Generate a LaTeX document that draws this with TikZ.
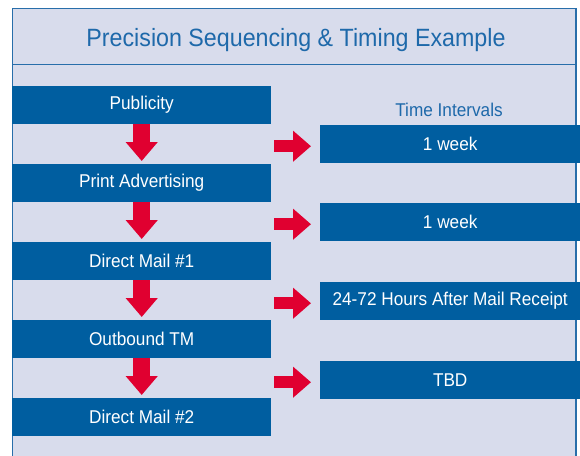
\documentclass[tikz,border=0pt]{standalone}
\usepackage{fontspec}
\setmainfont{Liberation Sans}[FakeStretch=0.93]
\usetikzlibrary{arrows.meta}
\definecolor{panel}{RGB}{216,220,236}
\definecolor{boxblue}{RGB}{0,94,160}
\definecolor{linecol}{RGB}{40,110,170}
\definecolor{titlecol}{RGB}{30,105,170}
\definecolor{arrred}{RGB}{224,0,48}
\tikzset{
  stepbox/.style={fill=boxblue, text=white, minimum width=259pt, minimum height=38pt, inner sep=0pt, anchor=north west, font=\fontsize{18.5}{20}\selectfont},
  timebox/.style={stepbox, minimum width=260pt},
  downarr/.style={draw=arrred, line width=17pt, -{Triangle[length=19pt, width=31pt]}, shorten >=3pt},
  rightarr/.style={draw=arrred, line width=12pt, -{Triangle[length=18pt, width=30pt]}, shorten <=3pt, shorten >=9pt},
}
\begin{document}
\begin{tikzpicture}[x=1pt,y=-1pt]
\useasboundingbox (0,0) rectangle (580,455);
\fill[white] (0,0) rectangle (580,455);
\path[fill=panel, draw=linecol, line width=1.3pt] (12.5,8.5) rectangle (576,470);
\draw[linecol, line width=1.3pt] (12.5,64.5) -- (576,64.5);
\node[text=titlecol, font=\fontsize{25}{28}\selectfont] (title) at (296,40) {Precision Sequencing \& Timing Example};
\node[text=titlecol, font=\fontsize{18.5}{20}\selectfont] (ti) at (449,110) {Time Intervals};
\node[stepbox] (pub) at (12,86) {Publicity};
\node[stepbox] (print) at (12,164) {Print Advertising};
\node[stepbox] (dm1) at (12,242) {Direct Mail \#1};
\node[stepbox] (out) at (12,320) {Outbound TM};
\node[stepbox] (dm2) at (12,398) {Direct Mail \#2};
\node[timebox] (w1) at (320,125) {1 week};
\node[timebox] (w2) at (320,203) {1 week};
\node[timebox] (w3) at (320,282) {24-72 Hours After Mail Receipt};
\node[timebox] (w4) at (320,361) {TBD};
\draw[downarr] (pub.south) -- (print.north);
\draw[downarr] (print.south) -- (dm1.north);
\draw[downarr] (dm1.south) -- (out.north);
\draw[downarr] (out.south) -- (dm2.north);
\draw[rightarr] ([yshift=-2pt]pub.east |- w1.west) -- ([yshift=-2pt]w1.west);
\draw[rightarr] ([yshift=-2pt]print.east |- w2.west) -- ([yshift=-2pt]w2.west);
\draw[rightarr] ([yshift=-2pt]dm1.east |- w3.west) -- ([yshift=-2pt]w3.west);
\draw[rightarr] ([yshift=-2pt]out.east |- w4.west) -- ([yshift=-2pt]w4.west);
\end{tikzpicture}
\end{document}
